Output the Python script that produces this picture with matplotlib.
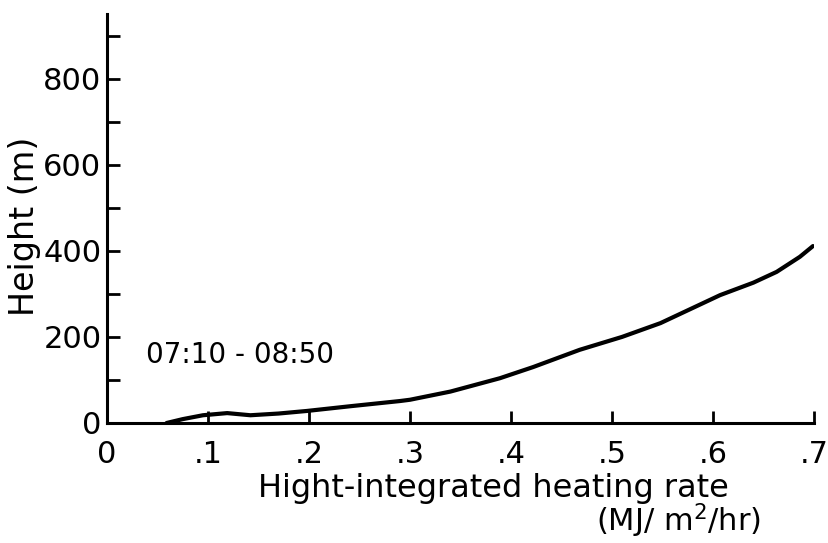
import matplotlib
matplotlib.use('Agg')
import matplotlib.pyplot as plt
from matplotlib.ticker import FixedLocator, FixedFormatter

# curve
rate = [0.059, 0.075, 0.095, 0.119, 0.142, 0.170, 0.198, 0.241, 0.290, 0.300,
        0.340, 0.389, 0.422, 0.468, 0.510, 0.548, 0.607, 0.640, 0.663, 0.686, 0.699]
height = [0, 9, 18, 23, 18, 22, 28, 39, 51, 54,
          73, 104, 130, 170, 200, 232, 297, 326, 351, 386, 411]

x_ticks = [0, 0.1, 0.2, 0.3, 0.4, 0.5, 0.6, 0.7]
x_labels = ['0', '.1', '.2', '.3', '.4', '.5', '.6', '.7']
y_ticks = [0, 200, 400, 600, 800]
y_minor = [100, 300, 500, 700, 900]

plt.rcParams['font.family'] = ['DejaVu Sans']

fig = plt.figure(figsize=(8.29, 5.43), dpi=100)
ax = fig.add_axes([107 / 829, 1 - 423 / 543, 707 / 829, 409 / 543])

ax.plot(rate, height, color='black', linewidth=3.0, solid_capstyle='round',
        solid_joinstyle='round')

ax.set_xlim(0, 0.7)
ax.set_ylim(0, 950)

ax.xaxis.set_major_locator(FixedLocator(x_ticks))
ax.xaxis.set_major_formatter(FixedFormatter(x_labels))
ax.yaxis.set_major_locator(FixedLocator(y_ticks))
ax.yaxis.set_minor_locator(FixedLocator(y_minor))

for s in ['top', 'right']:
    ax.spines[s].set_visible(False)
for s in ['left', 'bottom']:
    ax.spines[s].set_linewidth(2.2)

ax.tick_params(axis='both', which='both', direction='in', length=9, width=2.0,
               labelsize=22)
ax.tick_params(axis='x', pad=12)
ax.tick_params(axis='y', pad=4)

ax.text(0.039, 158, '07:10 - 08:50', fontsize=20, va='center', ha='left')

fig.text(25 / 829, 1 - 226 / 543, 'Height (m)', rotation=90, fontsize=24,
         ha='center', va='center')
fig.text(493 / 829, 1 - 489 / 543, 'Hight-integrated heating rate', fontsize=23,
         ha='center', va='center')
fig.text(679 / 829, 1 - 521 / 543, r'(MJ/ m$^\mathregular{2}$/hr)', fontsize=22,
         ha='center', va='center')

plt.savefig('out.png', dpi=100)
plt.close()
